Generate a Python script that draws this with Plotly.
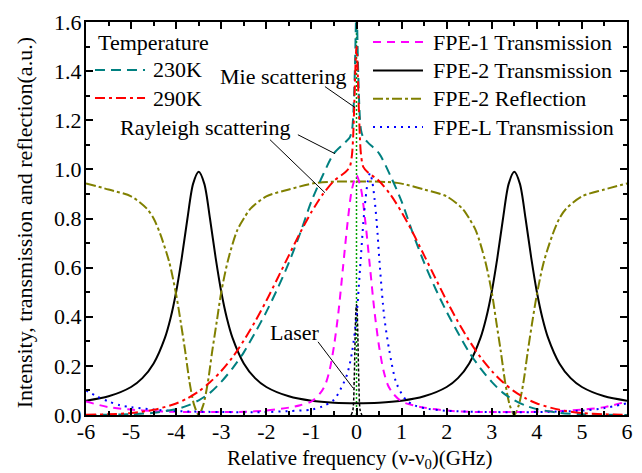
import plotly.graph_objects as go

# ---------------- data ----------------
# Rayleigh + Mie spectrum, 230 K
x_230 = [-6, -5, -4.5, -4, -3.75, -3.5, -3.25, -3, -2.75, -2.5, -2.25, -2, -1.75, -1.5, -1.25, -1,
         -0.75, -0.5, -0.25, -0.15, -0.1, -0.075, -0.05, -0.03, -0.015, 0,
         0.015, 0.03, 0.05, 0.075, 0.1, 0.15, 0.25, 0.5, 0.75, 1, 1.25, 1.5, 1.75, 2, 2.25, 2.5,
         2.75, 3, 3.25, 3.5, 3.75, 4, 4.5, 5, 6]
y_230 = [0.0, 0.003, 0.009, 0.024, 0.038, 0.06, 0.09, 0.135, 0.19, 0.255, 0.335, 0.42, 0.515, 0.62, 0.74, 0.87,
         0.975, 1.065, 1.11, 1.13, 1.16, 1.21, 1.32, 1.45, 1.58, 1.66,
         1.58, 1.45, 1.32, 1.21, 1.16, 1.13, 1.11, 1.065, 0.975, 0.87, 0.74, 0.62, 0.515, 0.42, 0.335, 0.255,
         0.19, 0.135, 0.09, 0.06, 0.038, 0.024, 0.009, 0.003, 0.0]

# Rayleigh + Mie spectrum, 290 K
x_290 = [-6, -5.5, -5, -4.5, -4, -3.75, -3.5, -3.25, -3, -2.75, -2.5, -2.25, -2, -1.75, -1.5, -1.25, -1,
         -0.75, -0.5, -0.25, -0.15, -0.1, -0.075, -0.05, -0.03, -0.015, 0,
         0.015, 0.03, 0.05, 0.075, 0.1, 0.15, 0.25, 0.5, 0.75, 1, 1.25, 1.5, 1.75, 2, 2.25, 2.5,
         2.75, 3, 3.25, 3.5, 3.75, 4, 4.5, 5, 5.5, 6]
y_290 = [0.001, 0.003, 0.008, 0.021, 0.047, 0.068, 0.096, 0.133, 0.179, 0.235, 0.303, 0.38, 0.465, 0.557, 0.65, 0.742, 0.826,
         0.898, 0.953, 0.988, 1.01, 1.06, 1.13, 1.26, 1.38, 1.46, 1.5,
         1.46, 1.38, 1.26, 1.13, 1.06, 1.01, 0.988, 0.953, 0.898, 0.826, 0.742, 0.65, 0.557, 0.465, 0.38, 0.303,
         0.235, 0.179, 0.133, 0.096, 0.068, 0.047, 0.021, 0.008, 0.003, 0.001]

# Laser line
x_laser = [-0.12, -0.08, -0.05, -0.03, -0.015, 0, 0.015, 0.03, 0.05, 0.08, 0.12]
y_laser = [0.0, 0.02, 0.15, 0.32, 0.42, 0.45, 0.42, 0.32, 0.15, 0.02, 0.0]

# Green dotted reference line at nu0
x_center = [0, 0]
y_center = [0, 1.6]

# FPE-1 transmission
x_fpe1 = [-6, -5.5, -5, -4.5, -4, -3.5, -3, -2.5, -2, -1.5, -1.25, -1, -0.8, -0.7, -0.6, -0.5, -0.4, -0.3, -0.2, -0.1,
          0, 0.1, 0.2, 0.3, 0.4, 0.5, 0.6, 0.7, 0.8, 1, 1.25, 1.5, 2, 2.5, 3, 3.5, 4, 4.5, 5, 5.5, 6]
y_fpe1 = [0.055, 0.032, 0.022, 0.016, 0.013, 0.012, 0.012, 0.013, 0.018, 0.03, 0.04, 0.055, 0.09, 0.12, 0.18, 0.28, 0.42, 0.6, 0.78, 0.92,
          0.975, 0.92, 0.78, 0.6, 0.42, 0.28, 0.18, 0.12, 0.09, 0.055, 0.04, 0.03, 0.018, 0.013, 0.012, 0.012, 0.013, 0.016, 0.022, 0.032, 0.055]

# FPE-2 transmission
x_fpe2t = [-6, -5.5, -5, -4.75, -4.5, -4.25, -4.125, -4, -3.875, -3.75, -3.625, -3.5, -3.375, -3.25, -3.125, -3,
           -2.875, -2.75, -2.5, -2.25, -2, -1.5, -1, -0.5, 0, 0.5, 1, 1.5, 2, 2.25, 2.5, 2.75, 2.875, 3,
           3.125, 3.25, 3.375, 3.5, 3.625, 3.75, 3.875, 4, 4.125, 4.25, 4.5, 4.75, 5, 5.5, 6]
y_fpe2t = [0.058, 0.076, 0.114, 0.15, 0.21, 0.314, 0.394, 0.502, 0.641, 0.8, 0.941, 0.99, 0.941, 0.8, 0.641, 0.502,
           0.394, 0.314, 0.21, 0.15, 0.114, 0.076, 0.058, 0.05, 0.048, 0.05, 0.058, 0.076, 0.114, 0.15, 0.21, 0.314, 0.394, 0.502,
           0.641, 0.8, 0.941, 0.99, 0.941, 0.8, 0.641, 0.502, 0.394, 0.314, 0.21, 0.15, 0.114, 0.076, 0.058]

# FPE-2 reflection
x_fpe2r = [-6, -5.5, -5, -4.65, -4.5, -4.35, -4.15, -4, -3.9, -3.8, -3.7, -3.6, -3.5, -3.4, -3.3, -3.2, -3.1, -3,
           -2.85, -2.65, -2.5, -2.35, -2, -1.5, -0.9, 0, 0.9, 1.5, 2, 2.35, 2.5, 2.65, 2.85, 3, 3.1, 3.2, 3.3, 3.4,
           3.5, 3.6, 3.7, 3.8, 3.9, 4, 4.15, 4.35, 4.5, 4.65, 5, 5.5, 6]
y_fpe2r = [0.943, 0.918, 0.89, 0.84, 0.8, 0.735, 0.62, 0.49, 0.38, 0.26, 0.13, 0.04, 0.0, 0.04, 0.13, 0.26, 0.38, 0.5,
           0.63, 0.75, 0.8, 0.84, 0.89, 0.918, 0.945, 0.951, 0.945, 0.918, 0.89, 0.84, 0.8, 0.75, 0.63, 0.5, 0.38, 0.26, 0.13, 0.04,
           0.0, 0.04, 0.13, 0.26, 0.38, 0.49, 0.62, 0.735, 0.8, 0.84, 0.89, 0.918, 0.943]

# FPE-L transmission
x_fpel = [-6, -5.75, -5.5, -5.25, -5, -4.5, -4, -3, -2, -1.5, -1, -0.75, -0.5, -0.3, -0.2, -0.1, 0, 0.08, 0.15, 0.2,
          0.25, 0.3, 0.35, 0.4, 0.45, 0.52, 0.615, 0.725, 0.885, 1.1, 1.3, 1.6, 2, 3, 4, 5, 5.5, 6]
y_fpel = [0.1, 0.075, 0.055, 0.04, 0.032, 0.022, 0.016, 0.012, 0.012, 0.016, 0.022, 0.035, 0.062, 0.125, 0.17, 0.255, 0.4, 0.6, 0.78, 0.88,
          0.95, 0.985, 0.95, 0.88, 0.78, 0.6, 0.4, 0.265, 0.13, 0.061, 0.038, 0.025, 0.017, 0.012, 0.012, 0.018, 0.028, 0.048]

x_tick_vals = [-6, -5, -4, -3, -2, -1, 0, 1, 2, 3, 4, 5, 6]
x_tick_text = ["-6", "-5", "-4", "-3", "-2", "-1", "0", "1", "2", "3", "4", "5", "6"]
y_tick_vals = [0, 0.2, 0.4, 0.6, 0.8, 1.0, 1.2, 1.4, 1.6]
y_tick_text = ["0.0", "0.2", "0.4", "0.6", "0.8", "1.0", "1.2", "1.4", "1.6"]

legend1_title = "Temperature"
legend1_names = ["230K", "290K"]
legend2_names = ["FPE-1 Transmission", "FPE-2 Transmission", "FPE-2 Reflection", "FPE-L Transmission"]

x_title = "Relative frequency (ν-ν<sub>0</sub>)(GHz)"
y_title = "Intensity, transmission and reflection(a.u.)"

# ---------------- figure ----------------
FONT = "Liberation Serif"
TEAL = "#008080"
RED = "#ff0000"
MAG = "#ff00ff"
OLIVE = "#808000"
BLUE = "#0000ff"
GREEN = "#00a000"

STY = {
    "230K": (TEAL, "10px,6px", 2),
    "290K": (RED, "10px,4px,3px,4px", 2),
    "FPE-1 Transmission": (MAG, "8px,6px", 2),
    "FPE-2 Transmission": ("black", "solid", 2),
    "FPE-2 Reflection": (OLIVE, "10px,3px,3px,3px", 2),
    "FPE-L Transmission": (BLUE, "2px,5px", 2),
}

fig = go.Figure()


def add(x, y, name, color, dash, width=2, shape="spline"):
    fig.add_trace(go.Scatter(x=x, y=y, mode="lines", name=name, showlegend=False,
                             line=dict(color=color, dash=dash, width=width, shape=shape, smoothing=0.8)))


add(x_center, y_center, "nu0", GREEN, "2px,2px", width=1.5, shape="linear")
add(x_laser, y_laser, "Laser", "black", "3px,2px", width=1.5)
for xs, ys, nm in [(x_fpe2t, y_fpe2t, "FPE-2 Transmission"), (x_fpe2r, y_fpe2r, "FPE-2 Reflection"),
                   (x_fpe1, y_fpe1, "FPE-1 Transmission"), (x_fpel, y_fpel, "FPE-L Transmission"),
                   (x_230, y_230, "230K"), (x_290, y_290, "290K")]:
    c, d, w = STY[nm]
    add(xs, ys, nm, c, d, w)

# ---- legends (drawn in paper coordinates) ----
def legend_entry(name, x_line0, x_line1, x_text, y):
    c, d, w = STY[name]
    fig.add_shape(type="line", xref="paper", yref="paper", x0=x_line0, x1=x_line1, y0=y, y1=y,
                  line=dict(color=c, dash=d, width=w))
    fig.add_annotation(xref="paper", yref="paper", x=x_text, y=y, text=name, showarrow=False,
                       xanchor="left", yanchor="middle", font=dict(family=FONT, size=22, color="black"))

fig.add_annotation(xref="paper", yref="paper", x=0.019, y=0.949, text=legend1_title, showarrow=False,
                   xanchor="left", yanchor="middle", font=dict(family=FONT, size=22, color="black"))
for i, nm in enumerate(legend1_names):
    legend_entry(nm, 0.0166, 0.1091, 0.121, 0.8779 - i * 0.0713)
for i, nm in enumerate(legend2_names):
    legend_entry(nm, 0.5305, 0.6229, 0.637, 0.949 - i * 0.0721)

# annotation leader lines
lines = [
    ((-0.70, 1.337), (-0.033, 1.252)),
    ((-1.30, 1.141), (-0.477, 1.064)),
    ((-1.92, 1.121), (-0.70, 0.905)),
    ((-0.854, 0.298), (-0.078, 0.110)),
]
for (x0, y0), (x1, y1) in lines:
    fig.add_shape(type="line", x0=x0, y0=y0, x1=x1, y1=y1, xref="x", yref="y",
                  line=dict(color="black", width=1))

for txt, xx, yy in [("Mie scattering", -1.63, 1.378), ("Rayleigh scattering", -3.35, 1.170), ("Laser", -1.364, 0.334)]:
    fig.add_annotation(x=xx, y=yy, xref="x", yref="y", text=txt, showarrow=False,
                       font=dict(family=FONT, size=22, color="black"))

# axis titles as paper-anchored text (precise placement)
fig.add_annotation(xref="paper", yref="paper", x=0.505, y=-0.113, text=x_title, showarrow=False,
                   xanchor="center", yanchor="middle", font=dict(family=FONT, size=21, color="black"))
fig.add_annotation(xref="paper", yref="paper", x=-0.113, y=0.49, text=y_title, showarrow=False, textangle=-90,
                   xanchor="center", yanchor="middle", font=dict(family=FONT, size=22, color="black"))

axis_common = dict(showline=True, linecolor="black", linewidth=2, mirror="ticks", ticks="inside",
                   ticklen=7, tickwidth=1.5, tickcolor="black", showgrid=False, zeroline=False,
                   automargin=False, tickfont=dict(family=FONT, size=22, color="black"))

fig.update_xaxes(range=[-6, 6], tickvals=x_tick_vals, ticktext=x_tick_text, ticklabelstandoff=-4,
                 minor=dict(ticks="inside", ticklen=4, tickwidth=1.5, dtick=0.5, tickcolor="black"),
                 **axis_common)
fig.update_yaxes(range=[0, 1.6], tickvals=y_tick_vals, ticktext=y_tick_text, ticklabelstandoff=-2,
                 minor=dict(ticks="inside", ticklen=4, tickwidth=1.5, dtick=0.1, tickcolor="black"),
                 **axis_common)

fig.update_layout(
    width=642, height=473,
    margin=dict(l=86, r=15, t=22, b=58),
    paper_bgcolor="white", plot_bgcolor="white",
    font=dict(family=FONT, size=22, color="black"),
    showlegend=False,
)

fig.write_html("out.html")
